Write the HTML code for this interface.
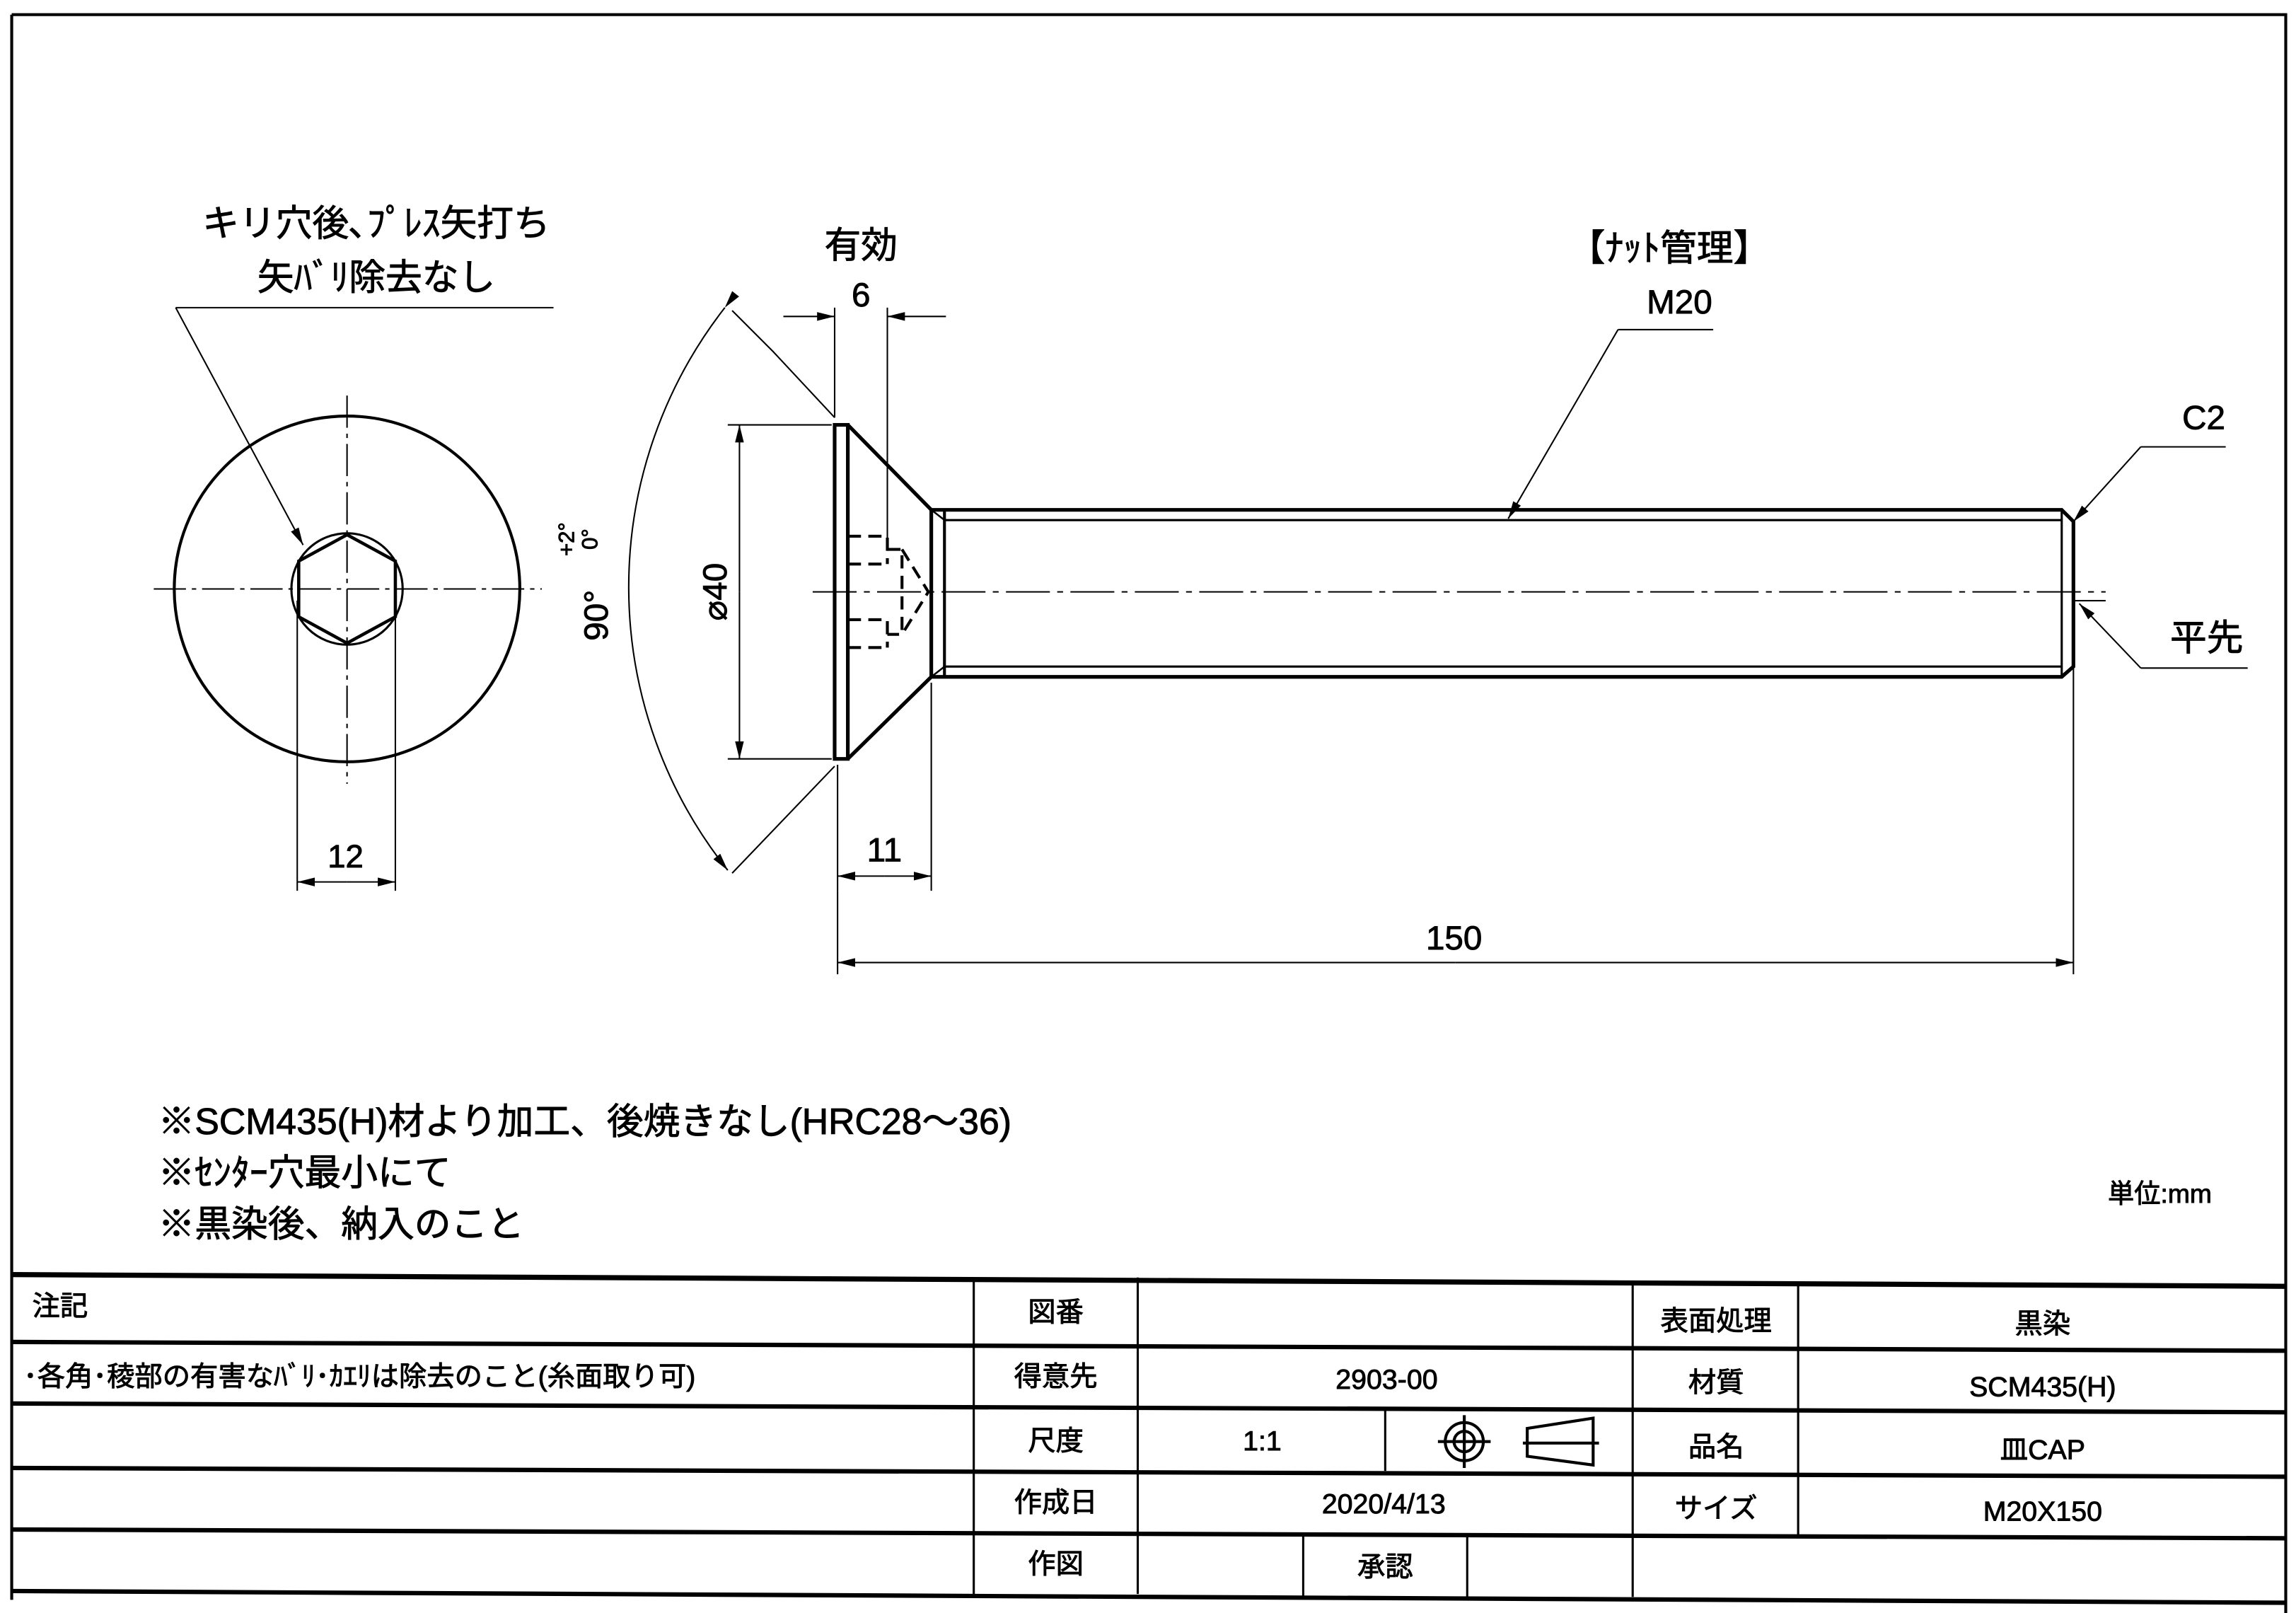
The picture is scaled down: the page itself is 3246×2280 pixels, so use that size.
<!DOCTYPE html>
<html><head><meta charset="utf-8">
<style>
html,body{margin:0;padding:0;background:#fff;}
svg{display:block;}
text{font-family:"Liberation Sans","Noto Sans CJK JP",sans-serif;fill:#000;stroke:#000;stroke-width:0.45;}
</style></head>
<body>
<svg width="3246" height="2280" viewBox="0 0 1568 1101" preserveAspectRatio="none" xmlns="http://www.w3.org/2000/svg">
<defs>
<marker id="a" viewBox="0 0 12 6" refX="12" refY="3" markerWidth="12" markerHeight="6" orient="auto" markerUnits="userSpaceOnUse">
<path d="M0,0 L12,3 L0,6 z" fill="#000"/></marker>
</defs>
<rect width="1568" height="1101" fill="#fff"/>
<path d="M8,10 H1561 V1101 M8,10 V1092" stroke="#000" stroke-width="2" fill="none"/>

<g stroke="#000" fill="none">
<circle cx="237" cy="402" r="118" stroke-width="2"/>
<circle cx="237" cy="402" r="38" stroke-width="1.5"/>
<polygon points="237,365 270,383 270,421 237,439 204,421 204,383" stroke-width="2.2"/>
<line x1="105" y1="402" x2="370" y2="402" stroke-width="1" stroke-dasharray="22,4,3,4"/>
<line x1="237" y1="270" x2="237" y2="535" stroke-width="1" stroke-dasharray="22,4,3,4"/>
<line x1="203" y1="410" x2="203" y2="608" stroke-width="1"/>
<line x1="270" y1="410" x2="270" y2="608" stroke-width="1"/>
<line x1="237" y1="602" x2="203" y2="602" stroke-width="1" marker-end="url(#a)"/>
<line x1="237" y1="602" x2="270" y2="602" stroke-width="1" marker-end="url(#a)"/>
<line x1="378" y1="210" x2="120" y2="210" stroke-width="1"/>
<line x1="120" y1="210" x2="207" y2="372" stroke-width="1" marker-end="url(#a)"/>
</g>
<text x="257" y="161" font-size="25" text-anchor="middle">キリ穴後､ﾌﾟﾚｽ矢打ち</text>
<text x="257" y="198" font-size="25" text-anchor="middle">矢ﾊﾞﾘ除去なし</text>
<text x="236" y="592" font-size="22" text-anchor="middle">12</text>

<g stroke="#000" fill="none">
<rect x="570" y="290" width="9" height="228" stroke-width="2.5"/>
<path d="M579,290 L636,348 M579,518 L636,462" stroke-width="2.5"/>
<path d="M636,348 H1408 L1416,356 V455 L1408,462 H636 Z" stroke-width="2.5"/>
<path d="M636,348 V462 M645,348 V462" stroke-width="2"/>
<path d="M645,355 H1408 M645,455 H1408 M1408,348 V462" stroke-width="1.5"/>
<path d="M636,348 L645,355 M636,462 L645,455" stroke-width="1.2"/>
<g stroke-width="2" stroke-dasharray="9,5">
<path d="M579,366 H606 V385 M579,385 H606"/>
<path d="M579,423 H606 V442 M579,442 H606"/>
<path d="M606,375 H616 V433 H606"/>
<path d="M616,375 L634,404 L616,433"/>
</g>
<line x1="555" y1="404" x2="1438" y2="404" stroke-width="1" stroke-dasharray="30,5,4,5"/>
<path d="M497,290 H568 M497,518 H568" stroke-width="1"/>
<line x1="505" y1="404" x2="505" y2="290" stroke-width="1" marker-end="url(#a)"/>
<line x1="505" y1="404" x2="505" y2="518" stroke-width="1" marker-end="url(#a)"/>
<path d="M570,285 L528,240 L500,212 M570,523 L500,596" stroke-width="1"/>
<path d="M495,210 A310,310 0 0 0 497,594" stroke-width="1" marker-start="url(#a)" marker-end="url(#a)"/>
<path d="M570,210 V285 M606,210 V372" stroke-width="1"/>
<line x1="535" y1="216" x2="570" y2="216" stroke-width="1" marker-end="url(#a)"/>
<line x1="646" y1="216" x2="606" y2="216" stroke-width="1" marker-end="url(#a)"/>
<path d="M572,522 V608 M636,466 V608" stroke-width="1"/>
<line x1="604" y1="598" x2="572" y2="598" stroke-width="1" marker-end="url(#a)"/>
<line x1="604" y1="598" x2="636" y2="598" stroke-width="1" marker-end="url(#a)"/>
<path d="M572,608 V665 M1416,412 V665" stroke-width="1"/>
<line x1="994" y1="657" x2="572" y2="657" stroke-width="1" marker-end="url(#a)"/>
<line x1="994" y1="657" x2="1416" y2="657" stroke-width="1" marker-end="url(#a)"/>
<path d="M1170,225 H1105" stroke-width="1"/>
<line x1="1105" y1="225" x2="1030" y2="354" stroke-width="1" marker-end="url(#a)"/>
<path d="M1520,305 H1462" stroke-width="1"/>
<line x1="1462" y1="305" x2="1416" y2="356" stroke-width="1" marker-end="url(#a)"/>
<path d="M1535,456 H1462" stroke-width="1"/>
<line x1="1462" y1="456" x2="1420" y2="412" stroke-width="1" marker-end="url(#a)"/>
<path d="M1416,410 H1438" stroke-width="1"/>
</g>
<text x="588" y="176" font-size="25" text-anchor="middle">有効</text>
<text x="588" y="209" font-size="23" text-anchor="middle">6</text>
<text x="604" y="588" font-size="23" text-anchor="middle">11</text>
<text x="993" y="648" font-size="23" text-anchor="middle">150</text>
<text transform="translate(496,404) rotate(-90)" font-size="23" text-anchor="middle">⌀40</text>
<text transform="translate(415,420) rotate(-90)" font-size="23" text-anchor="middle">90°</text>
<text transform="translate(392,368) rotate(-90)" font-size="15" text-anchor="middle">+2°</text>
<text transform="translate(408,368) rotate(-90)" font-size="15" text-anchor="middle">0°</text>
<text x="1140" y="178" font-size="25" text-anchor="middle">【ﾅｯﾄ管理】</text>
<text x="1147" y="214" font-size="23" text-anchor="middle">M20</text>
<text x="1505" y="293" font-size="23" text-anchor="middle">C2</text>
<text x="1507" y="444" font-size="25" text-anchor="middle">平先</text>

<text x="108" y="774" font-size="25">※SCM435(H)材より加工、後焼きなし(HRC28～36)</text>
<text x="108" y="809" font-size="25">※ｾﾝﾀｰ穴最小にて</text>
<text x="108" y="844" font-size="25">※黒染後、納入のこと</text>
<text x="1475" y="821" font-size="18" text-anchor="middle">単位:mm</text>

<g stroke="#000" fill="none">
<path d="M8,870 L1561,878" stroke-width="3.5"/>
<path d="M8,916 L1561,922" stroke-width="3"/>
<path d="M8,958 L1561,964" stroke-width="3"/>
<path d="M8,1002 L1561,1008" stroke-width="3"/>
<path d="M8,1044 L1561,1050" stroke-width="3"/>
<path d="M8,1086 L1561,1094" stroke-width="3"/>
<path d="M665,872 V1088 M777,872 V1088 M1115,876 V1090 M1228,876 V1048" stroke-width="1.5"/>
<path d="M946,962 V1004 M890,1048 V1090 M1002,1048 V1090" stroke-width="1.5"/>
<circle cx="1000" cy="984" r="13" stroke-width="2"/>
<circle cx="1000" cy="984" r="7" stroke-width="2"/>
<path d="M982,984 H1018 M1000,966 V1002" stroke-width="2"/>
<path d="M1043,975 L1088,968 V1000 L1043,994 Z M1040,985 H1092" stroke-width="2"/>
</g>
<g font-size="19">
<text x="22" y="898">注記</text>
<text x="16" y="946">･各角･稜部の有害なﾊﾞﾘ･ｶｴﾘは除去のこと(糸面取り可)</text>
<text x="721" y="902" text-anchor="middle">図番</text>
<text x="721" y="946" text-anchor="middle">得意先</text>
<text x="721" y="990" text-anchor="middle">尺度</text>
<text x="721" y="1032" text-anchor="middle">作成日</text>
<text x="721" y="1074" text-anchor="middle">作図</text>
<text x="947" y="948" text-anchor="middle">2903-00</text>
<text x="862" y="990" text-anchor="middle">1:1</text>
<text x="945" y="1033" text-anchor="middle">2020/4/13</text>
<text x="946" y="1076" text-anchor="middle">承認</text>
<text x="1172" y="908" text-anchor="middle">表面処理</text>
<text x="1172" y="950" text-anchor="middle">材質</text>
<text x="1172" y="994" text-anchor="middle">品名</text>
<text x="1172" y="1036" text-anchor="middle">サイズ</text>
<text x="1395" y="910" text-anchor="middle">黒染</text>
<text x="1395" y="953" text-anchor="middle">SCM435(H)</text>
<text x="1395" y="996" text-anchor="middle">皿CAP</text>
<text x="1395" y="1038" text-anchor="middle">M20X150</text>
</g>
</svg>
</body></html>
